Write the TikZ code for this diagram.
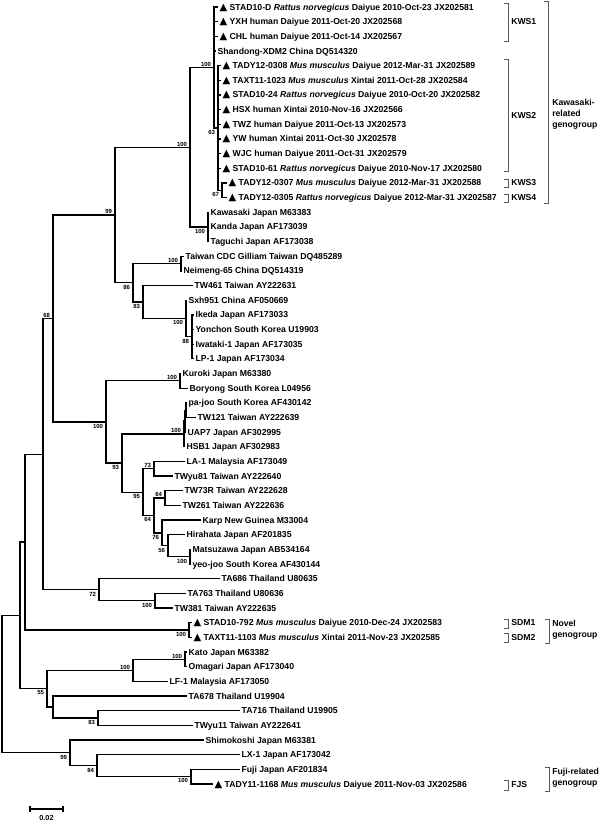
\documentclass[tikz,border=0pt]{standalone}
\usepackage{fontspec}
\setmainfont{Liberation Sans}
\newfontfamily\symfont{DejaVu Sans}
\newcommand{\trg}{{\fontsize{7.5}{7.5}\symfont ▲}}
\newcommand{\ratn}{\textit{Rattus norvegicus}}
\newcommand{\musm}{\textit{Mus musculus}}

\begin{document}
\begin{tikzpicture}[x=0.75pt,y=-0.75pt,
    br/.style={line width=0.95pt},
    leaf/.style={anchor=west,inner xsep=1pt,inner ysep=0pt,text height=6pt,text depth=1.4pt,font=\fontsize{6.5}{8}\bfseries},
    bsa/.style={anchor=south east,inner sep=0.6pt,xshift=-1.4pt,font=\fontsize{4.5}{5}\bfseries},
    bsb/.style={anchor=north east,inner sep=0.6pt,xshift=-1.4pt,yshift=-0.8pt,font=\fontsize{4.5}{5}\bfseries},
    brk/.style={draw=black!65,line width=0.6pt},
    grp/.style={anchor=west,inner sep=0pt,font=\fontsize{6.5}{8.2}\bfseries,align=left}]
    \useasboundingbox (0,0) rectangle (600,822);

    % leaves
    \node[leaf] (l01) at (218,7.0) {\trg{} STAD10-D \ratn{} Daiyue 2010-Oct-23 JX202581};
    \node[leaf] (l02) at (218,21.7) {\trg{} YXH human Daiyue 2011-Oct-20 JX202568};
    \node[leaf] (l03) at (218,36.3) {\trg{} CHL human Daiyue 2011-Oct-14 JX202567};
    \node[leaf] (l04) at (216,51.0) {Shandong-XDM2 China DQ514320};
    \node[leaf] (l05) at (221,65.6) {\trg{} TADY12-0308 \musm{} Daiyue 2012-Mar-31 JX202589};
    \node[leaf] (l06) at (221,80.3) {\trg{} TAXT11-1023 \musm{} Xintai 2011-Oct-28 JX202584};
    \node[leaf] (l07) at (221,94.9) {\trg{} STAD10-24 \ratn{} Daiyue 2010-Oct-20 JX202582};
    \node[leaf] (l08) at (221,109.6) {\trg{} HSX human Xintai 2010-Nov-16 JX202566};
    \node[leaf] (l09) at (221,124.3) {\trg{} TWZ human Daiyue 2011-Oct-13 JX202573};
    \node[leaf] (l10) at (221,138.9) {\trg{} YW human Xintai 2011-Oct-30 JX202578};
    \node[leaf] (l11) at (221,153.6) {\trg{} WJC human Daiyue 2011-Oct-31 JX202579};
    \node[leaf] (l12) at (221,168.3) {\trg{} STAD10-61 \ratn{} Daiyue 2010-Nov-17 JX202580};
    \node[leaf] (l13) at (227,182.9) {\trg{} TADY12-0307 \musm{} Daiyue 2012-Mar-31 JX202588};
    \node[leaf] (l14) at (227,197.6) {\trg{} TADY12-0305 \ratn{} Daiyue 2012-Mar-31 JX202587};
    \node[leaf] (l15) at (209,212.2) {Kawasaki Japan M63383};
    \node[leaf] (l16) at (209,226.9) {Kanda Japan AF173039};
    \node[leaf] (l17) at (209,241.6) {Taguchi Japan AF173038};
    \node[leaf] (l18) at (184,256.2) {Taiwan CDC Gilliam Taiwan DQ485289};
    \node[leaf] (l19) at (182,270.9) {Neimeng-65 China DQ514319};
    \node[leaf] (l20) at (193,285.5) {TW461 Taiwan AY222631};
    \node[leaf] (l21) at (187,300.2) {Sxh951 China AF050669};
    \node[leaf] (l22) at (194,314.9) {Ikeda Japan AF173033};
    \node[leaf] (l23) at (194,329.5) {Yonchon South Korea U19903};
    \node[leaf] (l24) at (194,344.2) {Iwataki-1 Japan AF173035};
    \node[leaf] (l25) at (194,358.8) {LP-1 Japan AF173034};
    \node[leaf] (l26) at (181,373.5) {Kuroki Japan M63380};
    \node[leaf] (l27) at (188,388.2) {Boryong South Korea L04956};
    \node[leaf] (l28) at (187,402.8) {pa-joo South Korea AF430142};
    \node[leaf] (l29) at (196,417.5) {TW121 Taiwan AY222639};
    \node[leaf] (l30) at (186,432.1) {UAP7 Japan AF302995};
    \node[leaf] (l31) at (185,446.8) {HSB1 Japan AF302983};
    \node[leaf] (l32) at (185,461.5) {LA-1 Malaysia AF173049};
    \node[leaf] (l33) at (173,476.1) {TWyu81 Taiwan AY222640};
    \node[leaf] (l34) at (183,490.8) {TW73R Taiwan AY222628};
    \node[leaf] (l35) at (181,505.4) {TW261 Taiwan AY222636};
    \node[leaf] (l36) at (201,520.1) {Karp New Guinea M33004};
    \node[leaf] (l37) at (185,534.8) {Hirahata Japan AF201835};
    \node[leaf] (l38) at (191,549.4) {Matsuzawa Japan AB534164};
    \node[leaf] (l39) at (191,564.1) {yeo-joo South Korea AF430144};
    \node[leaf] (l40) at (220,578.8) {TA686 Thailand U80635};
    \node[leaf] (l41) at (186,593.4) {TA763 Thailand U80636};
    \node[leaf] (l42) at (173,608.1) {TW381 Taiwan AY222635};
    \node[leaf] (l43) at (192,622.7) {\trg{} STAD10-792 \musm{} Daiyue 2010-Dec-24 JX202583};
    \node[leaf] (l44) at (192,637.4) {\trg{} TAXT11-1103 \musm{} Xintai 2011-Nov-23 JX202585};
    \node[leaf] (l45) at (187,652.1) {Kato Japan M63382};
    \node[leaf] (l46) at (187,666.7) {Omagari Japan AF173040};
    \node[leaf] (l47) at (168,681.4) {LF-1 Malaysia AF173050};
    \node[leaf] (l48) at (187,696.0) {TA678 Thailand U19904};
    \node[leaf] (l49) at (240,710.7) {TA716 Thailand U19905};
    \node[leaf] (l50) at (193,725.4) {TWyu11 Taiwan AY222641};
    \node[leaf] (l51) at (204,740.0) {Shimokoshi Japan M63381};
    \node[leaf] (l52) at (240,754.7) {LX-1 Japan AF173042};
    \node[leaf] (l53) at (240,769.3) {Fuji Japan AF201834};
    \node[leaf] (l54) at (213,784.0) {\trg{} TADY11-1168 \musm{} Daiyue 2011-Nov-03 JX202586};

    % inner nodes
    \coordinate (n67) at (222,190.25);
    \coordinate (n63) at (218,127.9);
    \coordinate (nK) at (214,67.5);
    \coordinate (nKaw) at (208,226.9);
    \coordinate (nK100) at (190,147.2);
    \coordinate (nTC) at (181,263.55);
    \coordinate (n88) at (192,336.85);
    \coordinate (nSx) at (186,318.5);
    \coordinate (n83) at (143,302.0);
    \coordinate (n86) at (133,282.8);
    \coordinate (n99) at (115,215.0);
    \coordinate (nKu) at (180,380.85);
    \coordinate (nPj3) at (186,410.15);
    \coordinate (nPj2) at (185,421.1);
    \coordinate (nPj) at (184,433.95);
    \coordinate (n73) at (154,468.8);
    \coordinate (n64b) at (165,498.1);
    \coordinate (nMz) at (190,556.75);
    \coordinate (n56) at (168,545.8);
    \coordinate (n76) at (162,532.95);
    \coordinate (n64) at (154,515.5);
    \coordinate (n95) at (143,492.15);
    \coordinate (n93) at (122,463.05);
    \coordinate (nKg) at (106,421.95);
    \coordinate (n68) at (53,318.5);
    \coordinate (nTA) at (155,600.75);
    \coordinate (n72) at (99,589.8);
    \coordinate (nN3) at (43,454.15);
    \coordinate (nSD) at (189,630.05);
    \coordinate (nN2) at (25,542.1);
    \coordinate (nKa) at (185,659.4);
    \coordinate (nLF) at (133,670.4);
    \coordinate (n83b) at (98,718.05);
    \coordinate (nTh) at (53,707.0);
    \coordinate (n55) at (47,688.7);
    \coordinate (nN1) at (20,615.4);
    \coordinate (nFu) at (191,776.65);
    \coordinate (n84) at (97,765.7);
    \coordinate (n99b) at (70,752.85);
    \coordinate (root) at (2,684.1);

    % branches
    \draw[br] (n67) |- (l13.west) (n67) |- (l14.west);
    \draw[br] (n63) |- (n67);
    \foreach \i in {05,06,07,08,09,10,11,12} \draw[br] (n63) |- (l\i.west);
    \foreach \i in {01,02,03,04} \draw[br] (nK) |- (l\i.west);
    \draw[br] (nK) |- (n63);
    \foreach \i in {15,16,17} \draw[br] (nKaw) |- (l\i.west);
    \draw[br] (nK100) |- (nK) (nK100) |- (nKaw);
    \draw[br] (nTC) |- (l18.west) (nTC) |- (l19.west);
    \foreach \i in {22,23,24,25} \draw[br] (n88) |- (l\i.west);
    \draw[br] (nSx) |- (l21.west) (nSx) |- (n88);
    \draw[br] (n83) |- (l20.west) (n83) |- (nSx);
    \draw[br] (n86) |- (nTC) (n86) |- (n83);
    \draw[br] (n99) |- (nK100) (n99) |- (n86);
    \draw[br] (nKu) |- (l26.west) (nKu) |- (l27.west);
    \draw[br] (nPj3) |- (l28.west) (nPj3) |- (l29.west);
    \draw[br] (nPj2) |- (nPj3) (nPj2) |- (l30.west);
    \draw[br] (nPj) |- (nPj2) (nPj) |- (l31.west);
    \draw[br] (n73) |- (l32.west) (n73) |- (l33.west);
    \draw[br] (n64b) |- (l34.west) (n64b) |- (l35.west);
    \draw[br] (nMz) |- (l38.west) (nMz) |- (l39.west);
    \draw[br] (n56) |- (l37.west) (n56) |- (nMz);
    \draw[br] (n76) |- (l36.west) (n76) |- (n56);
    \draw[br] (n64) |- (n64b) (n64) |- (n76);
    \draw[br] (n95) |- (n73) (n95) |- (n64);
    \draw[br] (n93) |- (nPj) (n93) |- (n95);
    \draw[br] (nKg) |- (nKu) (nKg) |- (n93);
    \draw[br] (n68) |- (n99) (n68) |- (nKg);
    \draw[br] (nTA) |- (l41.west) (nTA) |- (l42.west);
    \draw[br] (n72) |- (l40.west) (n72) |- (nTA);
    \draw[br] (nN3) |- (n68) (nN3) |- (n72);
    \draw[br] (nSD) |- (l43.west) (nSD) |- (l44.west);
    \draw[br] (nN2) |- (nN3) (nN2) |- (nSD);
    \draw[br] (nKa) |- (l45.west) (nKa) |- (l46.west);
    \draw[br] (nLF) |- (nKa) (nLF) |- (l47.west);
    \draw[br] (n83b) |- (l49.west) (n83b) |- (l50.west);
    \draw[br] (nTh) |- (l48.west) (nTh) |- (n83b);
    \draw[br] (n55) |- (nLF) (n55) |- (nTh);
    \draw[br] (nN1) |- (nN2) (nN1) |- (n55);
    \draw[br] (nFu) |- (l53.west) (nFu) |- (l54.west);
    \draw[br] (n84) |- (l52.west) (n84) |- (nFu);
    \draw[br] (n99b) |- (l51.west) (n99b) |- (n84);
    \draw[br] (root) |- (nN1) (root) |- (n99b);

    % bootstrap values
    \node[bsa] (bK) at (nK) {100};
    \node[bsb] (b63) at (n63) {63};
    \node[bsb] (b67) at (n67) {67};
    \node[bsa] (bK100) at (nK100) {100};
    \node[bsb] (bKaw) at (nKaw) {100};
    \node[bsa] (b99) at (n99) {99};
    \node[bsb] (b86) at (n86) {86};
    \node[bsa] (bTC) at (nTC) {100};
    \node[bsb] (b83) at (n83) {83};
    \node[bsb] (bSx) at (nSx) {100};
    \node[bsb] (b88) at (n88) {88};
    \node[bsa] (b68) at (n68) {68};
    \node[bsb] (bKg) at (nKg) {100};
    \node[bsa] (bKu) at (nKu) {100};
    \node[bsb] (b93) at (n93) {93};
    \node[bsa] (bPj) at (nPj) {100};
    \node[bsb] (b95) at (n95) {95};
    \node[bsa] (b73) at (n73) {73};
    \node[bsb] (b64) at (n64) {64};
    \node[bsa] (b64b) at (n64b) {64};
    \node[bsb] (b76) at (n76) {76};
    \node[bsb] (b56) at (n56) {56};
    \node[bsb] (bMz) at (nMz) {100};
    \node[bsb] (b72) at (n72) {72};
    \node[bsb] (bTA) at (nTA) {100};
    \node[bsb] (bSD) at (nSD) {100};
    \node[bsa] (bKa) at (nKa) {100};
    \node[bsa] (bLF) at (nLF) {100};
    \node[bsb] (b55) at (n55) {55};
    \node[bsb] (b83b) at (n83b) {83};
    \node[bsb] (b99b) at (n99b) {99};
    \node[bsb] (b84) at (n84) {84};
    \node[bsb] (bFu) at (nFu) {100};

    % groups
    \draw[brk] (504,3) -| (508,41) -- (504,41);
    \node[grp] (kws1) at (511,22) {KWS1};
    \draw[brk] (504,59) -| (508,171) -- (504,171);
    \node[grp] (kws2) at (511,116) {KWS2};
    \draw[brk] (504,179) -| (508,187) -- (504,187);
    \node[grp] (kws3) at (511,183) {KWS3};
    \draw[brk] (504,194) -| (508,202) -- (504,202);
    \node[grp] (kws4) at (511,197.6) {KWS4};
    \draw[brk] (544,1) -| (548,203) -- (544,203);
    \node[grp] (kaw) at (552,114) {Kawasaki-\\related\\genogroup};
    \draw[brk] (504,619) -| (508,628) -- (504,628);
    \node[grp] (sdm1) at (511,623) {SDM1};
    \draw[brk] (504,633) -| (508,642) -- (504,642);
    \node[grp] (sdm2) at (511,638) {SDM2};
    \draw[brk] (545,619) -| (549,643) -- (545,643);
    \node[grp] (novel) at (552,630) {Novel\\genogroup};
    \draw[brk] (504,780) -| (508,790) -- (504,790);
    \node[grp] (fjs) at (511,785) {FJS};
    \draw[brk] (545,767) -| (549,791) -- (545,791);
    \node[grp] (fuji) at (552,778) {Fuji-related\\genogroup};

    % scale
    \coordinate (sbl) at (30,809);
    \coordinate (sbr) at (63,809);
    \draw[line width=0.8pt] (sbl) -- (sbr) (sbl) ++(0,-3) -- ++(0,6) (sbr) ++(0,-3) -- ++(0,6);
    \node[font=\fontsize{5.5}{6}\bfseries,inner sep=0pt] (scl) at (46.5,818) {0.02};
\end{tikzpicture}
\end{document}
